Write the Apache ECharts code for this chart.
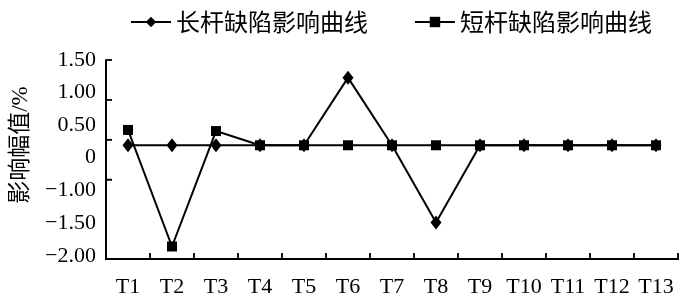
<!DOCTYPE html>
<html>
<head>
<meta charset="utf-8">
<script src="https://cdn.jsdelivr.net/npm/echarts@6/dist/echarts.min.js"></script>
<style>
html,body{margin:0;padding:0;background:#fff;}
#chart{width:700px;height:306px;background:#fff;}
</style>
</head>
<body>
<div id="chart"></div>
<script>
var categories = ['T1','T2','T3','T4','T5','T6','T7','T8','T9','T10','T11','T12','T13'];
var longRod = [0, 0, 0, 0, 0, 1.19, 0, -1.36, 0, 0, 0, 0, 0];
var shortRod = [0.27, -1.78, 0.25, 0, 0, 0, 0, 0, 0, 0, 0, 0, 0];
var seriesNames = ['长杆缺陷影响曲线', '短杆缺陷影响曲线'];
var yTickLabels = ['1.50', '1.00', '0.50', '0', '\u22121.00', '\u22121.50', '\u22122.00'];
var yLabelValues = [1.5, 0.94, 0.36, -0.21, -0.79, -1.37, -1.95];
var yTickValues = [1.5, 0.8, 0.1, -0.6];
var yName = '影响幅值/%';

function labelFor(v) {
  var best = 0, bd = Infinity;
  for (var i = 0; i < yLabelValues.length; i++) {
    var d = Math.abs(yLabelValues[i] - v);
    if (d < bd) { bd = d; best = i; }
  }
  return yTickLabels[best];
}

var serif = '"Liberation Serif", "Noto Sans CJK SC", serif';
var chart = echarts.init(document.getElementById('chart'), null, {renderer: 'canvas'});
chart.setOption({
  animation: false,
  legend: {
    data: seriesNames,
    left: 125,
    top: 5,
    itemWidth: 40,
    itemHeight: 13,
    itemGap: 46,
    textStyle: {fontSize: 24, color: '#000', fontFamily: '"Noto Sans CJK SC", sans-serif'}
  },
  grid: {left: 106, right: 22, top: 60, height: 199},
  xAxis: {
    type: 'category', data: categories, boundaryGap: true,
    axisLine: {show: true, onZero: false, lineStyle: {color: '#000', width: 2}},
    axisTick: {show: true, inside: true, length: 6, lineStyle: {color: '#111', width: 1.5}},
    axisLabel: {color: '#000', fontSize: 22, fontFamily: serif, margin: 17, interval: 0},
    splitLine: {show: false}
  },
  yAxis: {
    type: 'value', min: -2, max: 1.5,
    axisLine: {show: true, onZero: false, lineStyle: {color: '#111', width: 2}},
    axisTick: {show: true, inside: true, length: 6, customValues: yTickValues, lineStyle: {color: '#111', width: 1.5}},
    axisLabel: {show: true, customValues: yLabelValues, formatter: labelFor,
      color: '#000', fontSize: 22, fontFamily: serif, margin: 10},
    splitLine: {show: false}
  },
  series: [
    {
      name: seriesNames[0], type: 'line',
      data: longRod, symbol: 'diamond', symbolSize: [11, 14],
      lineStyle: {color: '#000', width: 2}, itemStyle: {color: '#000'}, z: 3
    },
    {
      name: seriesNames[1], type: 'line',
      data: shortRod, symbol: 'rect', symbolSize: 10,
      lineStyle: {color: '#000', width: 2}, itemStyle: {color: '#000'}, z: 4
    }
  ]
});

// Axis frame and ticks, positioned through the chart's own coordinate system
var rect = chart.getModel().getComponent('grid', 0).coordinateSystem.getRect();
var L = rect.x, T = rect.y, B = rect.y + rect.height, R = rect.x + rect.width;
var band = rect.width / categories.length;
var els = [];
var ls = {stroke: '#000', lineWidth: 2};
var ts = {stroke: '#000', lineWidth: 1.3};
els.push({type: 'line', z: 50, silent: true, shape: {x1: L, y1: T, x2: L, y2: B + 1}, style: ls});
els.push({type: 'line', z: 50, silent: true, shape: {x1: L - 1, y1: B, x2: R + 1, y2: B}, style: ls});
yTickValues.forEach(function (v) {
  var y = chart.convertToPixel({yAxisIndex: 0}, v);
  els.push({type: 'line', z: 50, silent: true, shape: {x1: L, y1: y, x2: L + 6, y2: y}, style: ts});
});
for (var i = 1; i <= categories.length; i++) {
  var x = Math.round(L + i * band);
  els.push({type: 'line', z: 50, silent: true, shape: {x1: x, y1: B, x2: x, y2: B - 6}, style: ts});
}
els.push({
  type: 'text', x: 21, y: 145, rotation: Math.PI / 2, z: 50,
  style: {text: yName, fontSize: 23, fill: '#000', fontFamily: serif, align: 'center', verticalAlign: 'middle'}
});
chart.setOption({graphic: els});
</script>
</body>
</html>
